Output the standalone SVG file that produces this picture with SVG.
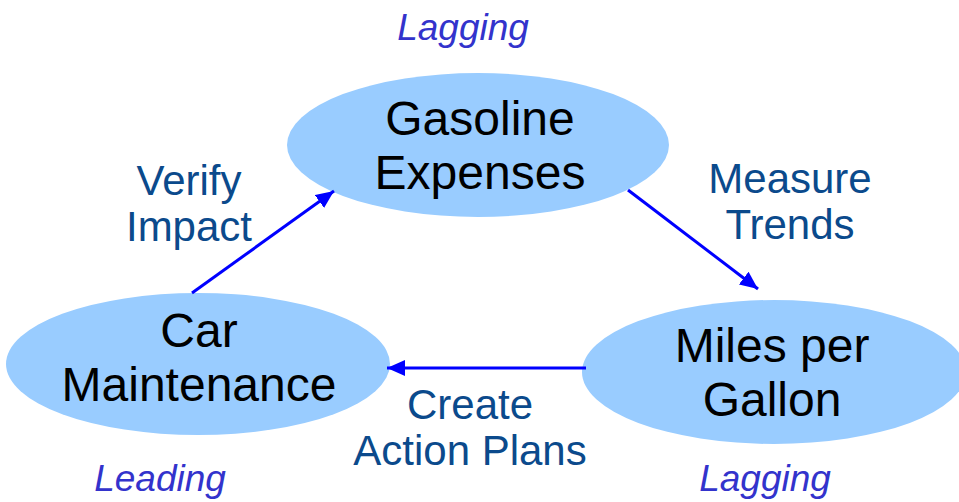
<svg xmlns="http://www.w3.org/2000/svg" width="959" height="502" viewBox="0 0 959 502">
  <style>
    .node { fill: #99CCFF; }
    .name { font-family: "Liberation Sans", Arial, sans-serif; font-size: 48px; fill: #000; text-anchor: middle; }
    .act { font-family: "Liberation Sans", Arial, sans-serif; font-size: 42px; fill: #0B4A8C; text-anchor: middle; }
    .tag { font-family: "Liberation Sans", Arial, sans-serif; font-size: 37px; font-style: italic; fill: #3333CC; text-anchor: middle; }
    .link { stroke: #0000FF; stroke-width: 3; fill: none; marker-end: url(#head); }
  </style>
  <defs>
    <marker id="head" markerUnits="userSpaceOnUse" markerWidth="20" markerHeight="16" refX="18" refY="8" orient="auto">
      <path d="M0,0 L18,8 L0,16 Z" fill="#0000FF"/>
    </marker>
  </defs>
  <rect width="959" height="502" fill="#FFFFFF"/>

  <g id="node-gasoline">
    <ellipse class="node" cx="478" cy="145" rx="191" ry="72"/>
    <text class="name" x="480" y="135">Gasoline</text>
    <text class="name" x="480" y="189">Expenses</text>
  </g>
  <g id="node-maintenance">
    <ellipse class="node" cx="198" cy="364" rx="192" ry="71"/>
    <text class="name" x="199" y="347">Car</text>
    <text class="name" x="199" y="401">Maintenance</text>
  </g>
  <g id="node-mpg">
    <ellipse class="node" cx="774" cy="372" rx="192" ry="72"/>
    <text class="name" x="772" y="362">Miles per</text>
    <text class="name" x="772" y="416">Gallon</text>
  </g>

  <g id="connectors">
    <line class="link" x1="192" y1="293" x2="334" y2="191"/>
    <line class="link" x1="628" y1="190" x2="758" y2="289"/>
    <line class="link" x1="586" y1="368" x2="387" y2="368"/>
  </g>

  <g id="labels">
    <text class="act" x="189" y="195">Verify</text>
    <text class="act" x="189" y="241">Impact</text>
    <text class="act" x="790" y="193">Measure</text>
    <text class="act" x="790" y="239">Trends</text>
    <text class="act" x="470" y="419">Create</text>
    <text class="act" x="470" y="465">Action Plans</text>
    <text class="tag" x="463" y="40">Lagging</text>
    <text class="tag" x="160" y="491">Leading</text>
    <text class="tag" x="765" y="491">Lagging</text>
  </g>
</svg>
